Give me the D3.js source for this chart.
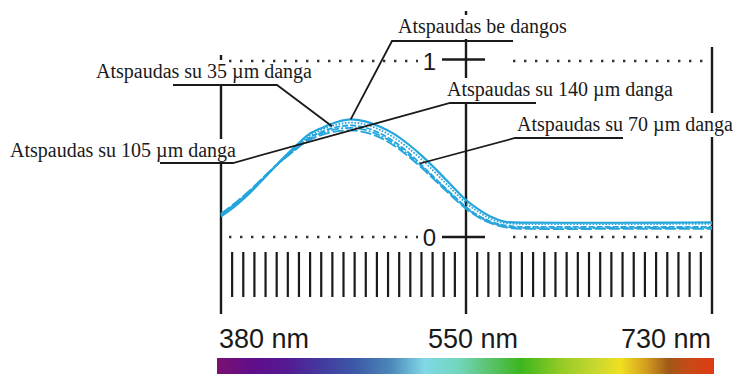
<!DOCTYPE html>
<html><head><meta charset="utf-8">
<script src="https://cdn.jsdelivr.net/npm/d3@7"></script>
<style>html,body{margin:0;padding:0;background:#fff;}svg{display:block;}</style>
</head><body>
<svg id="chart" width="738" height="374"></svg>
<script>
// ---- data ----
const wavelengths = [380,390,400,410,420,430,440,450,460,470,480,490,500,510,520,530,540,550,560,570,580,590,620,660,700,730];
const noCoating  = [.117,.177,.25,.335,.422,.502,.578,.62,.652,.668,.657,.628,.586,.527,.457,.377,.293,.21,.153,.109,.085,.082,.081,.081,.082,.083];
const coat35     = [.125,.185,.255,.338,.42,.497,.568,.61,.638,.65,.64,.61,.565,.505,.435,.355,.272,.193,.138,.097,.078,.074,.073,.073,.074,.075];
const coat70     = [.13,.19,.26,.34,.418,.49,.558,.598,.624,.634,.622,.59,.543,.48,.402,.322,.245,.171,.118,.082,.064,.058,.057,.057,.058,.058];
const coat105    = [.128,.19,.262,.342,.418,.487,.552,.59,.613,.62,.608,.578,.531,.468,.396,.318,.24,.166,.113,.077,.058,.052,.05,.051,.051,.052];
const coat140    = [.132,.195,.265,.344,.42,.485,.546,.58,.6,.606,.595,.566,.52,.458,.387,.31,.233,.16,.108,.073,.054,.047,.045,.046,.046,.047];
const seriesLabels = ["Atspaudas be dangos","Atspaudas su 35 µm danga","Atspaudas su 70 µm danga","Atspaudas su 105 µm danga","Atspaudas su 140 µm danga"];
const axisWavelengths = [380,550,730];
const axisLabels = ["380 nm","550 nm","730 nm"];
const levelValues = [0,1];
const levelLabels = ["0","1"];

// ---- scales ----
const svg = d3.select("#chart");
const x = d3.scaleLinear().domain([380,550,730]).range([221,466,712]);
const y = d3.scaleLinear().domain([0,1]).range([237,61]);
const ink = "#1a1a1a", blue = "#24a5db";

// spectrum gradient
const defs = svg.append("defs");
const grad = defs.append("linearGradient").attr("id","spec").attr("x1","0").attr("x2","1").attr("y1","0").attr("y2","0");
[[0,"#7b1070"],[.07,"#600e8a"],[.14,"#541a92"],[.21,"#433a9e"],[.28,"#3d5aa8"],[.35,"#4c88ba"],[.417,"#80d8e6"],[.486,"#72d6bc"],[.556,"#58c064"],[.611,"#3cb61e"],[.694,"#96cb26"],[.764,"#cad830"],[.812,"#f0e020"],[.861,"#d6a020"],[.909,"#a05818"],[.951,"#c84a18"],[1,"#e03a10"]]
 .forEach(([o,c])=>grad.append("stop").attr("offset",o).attr("stop-color",c));
svg.append("rect").attr("x",x(380)-4).attr("y",358).attr("width",x(730)-x(380)+6).attr("height",20).attr("fill","url(#spec)");

// vertical guide lines
const vTops = {380:55, 550:11, 730:47};
svg.selectAll("line.v").data(axisWavelengths).join("line").attr("class","v")
  .attr("x1",d=>x(d)).attr("x2",d=>x(d)).attr("y1",d=>vTops[d]).attr("y2",314)
  .attr("stroke",ink).attr("stroke-width",2.4);

// minor ticks: 21 per segment
const minor = [];
for (let i=1;i<=21;i++){ minor.push(380+i*(550-380)/22); minor.push(550+i*(730-550)/22); }
svg.selectAll("line.t").data(minor).join("line").attr("class","t")
  .attr("x1",d=>x(d)).attr("x2",d=>x(d)).attr("y1",252).attr("y2",297)
  .attr("stroke",ink).attr("stroke-width",2.2);

// annotations (label boxes occlude the guide lines)
const ann = [
  {t:seriesLabels[0], tx:398, base:33, ux:[392,513], knee:392, target:[470,0]},
  {t:seriesLabels[1], tx:96,  base:78, ux:[173,277], knee:277, target:[457,1]},
  {t:seriesLabels[3], tx:10,  base:157, ux:[160,233], knee:233, target:[470,4]},
  {t:seriesLabels[4], tx:447, base:96, ux:[450,536], knee:450, target:[470,4]},
  {t:seriesLabels[2], tx:517, base:131, ux:[515,623], knee:515, target:[518,2]},
];
const series = [noCoating, coat35, coat70, coat105, coat140];
const texts = svg.append("g");
ann.forEach(a=>{
  const tEl = texts.append("text").attr("x",a.tx).attr("y",a.base)
    .attr("font-family","'Liberation Serif','Times New Roman',serif").attr("font-size",20).attr("fill",ink).text(a.t);
  const w = tEl.node().getComputedTextLength();
  texts.insert("rect","text").attr("x",a.tx-3).attr("y",a.base-18).attr("width",w+6).attr("height",24).attr("fill","#fff");
});

// dotted level lines, value ticks & labels
const dotted = svg.append("g");
levelValues.forEach((v,i)=>{
  [[229,418],[513,707]].forEach(([a,b])=>{
    dotted.append("line").attr("x1",a).attr("x2",b).attr("y1",y(v)).attr("y2",y(v))
      .attr("stroke","#333").attr("stroke-width",2.4).attr("stroke-dasharray","2.4 8.6");
  });
  dotted.append("line").attr("x1",x(550)-24).attr("x2",x(550)+19).attr("y1",y(v)-(v?1.5:0)).attr("y2",y(v)-(v?1.5:0))
    .attr("stroke",ink).attr("stroke-width",2.4);
  dotted.append("text").attr("x",436).attr("y",y(v)+8.5).attr("text-anchor","end")
    .attr("font-family","'Liberation Sans',Arial,sans-serif").attr("font-size",24).attr("fill",ink).text(levelLabels[i]);
});

// curves
const styles = [
  {w:2.2, dash:null},
  {w:1.8, dash:"1.6 1.6"},
  {w:1.8, dash:"6 2"},
  {w:1.8, dash:"8 2 2 2"},
  {w:1.8, dash:"11 3"},
];
const line = d3.line().x(d=>x(d[0])).y(d=>y(d[1])).curve(d3.curveMonotoneX);
series.forEach((s,i)=>{
  svg.append("path").datum(wavelengths.map((w,j)=>[w,s[j]]))
    .attr("d",line).attr("fill","none").attr("stroke",blue)
    .attr("stroke-width",styles[i].w).attr("stroke-dasharray",styles[i].dash);
});

// leader lines
function valAt(s,lam){
  const j = d3.bisectLeft(wavelengths,lam);
  if (wavelengths[j]===lam) return s[j];
  const t=(lam-wavelengths[j-1])/(wavelengths[j]-wavelengths[j-1]);
  return s[j-1]+t*(s[j]-s[j-1]);
}
ann.forEach(a=>{
  const uy = a.base + (a.base<40?8:(a.base>150?6:7));
  const tx = x(a.target[0]), ty = y(valAt(series[a.target[1]], a.target[0]));
  svg.append("polyline")
    .attr("points",`${a.ux[0]===a.knee?a.ux[1]:a.ux[0]},${uy} ${a.knee},${uy} ${tx},${ty}`)
    .attr("fill","none").attr("stroke",ink).attr("stroke-width",1.8);
});

// wavelength labels
svg.selectAll("text.ax").data(axisWavelengths).join("text").attr("class","ax")
  .attr("x",(d,i)=> i===0 ? x(d)-2 : (i===1 ? x(d)-38 : x(d)-1))
  .attr("y",348).attr("text-anchor",(d,i)=>i===2?"end":"start")
  .attr("font-family","'Liberation Sans',Arial,sans-serif").attr("font-size",27).attr("fill",ink)
  .text((d,i)=>axisLabels[i]);
</script>
</body></html>
